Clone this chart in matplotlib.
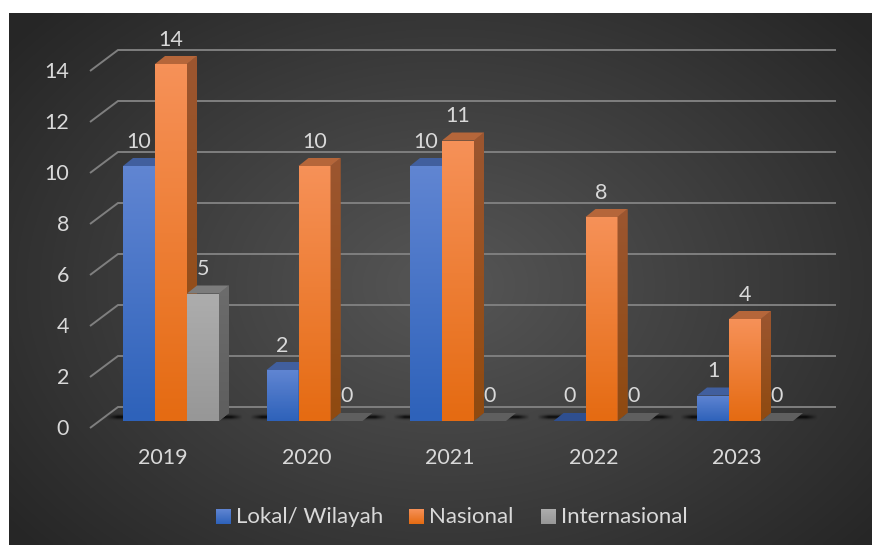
#bar chart with fake 3d look on dark gradient panel
#one axes over the whole figure, 1 display pixel = 1 picture pixel at dpi 100

import numpy as np
import matplotlib
matplotlib.use("Agg")
import matplotlib.pyplot as plt
from matplotlib.colors import LinearSegmentedColormap
from matplotlib.patches import Polygon

years = ["2019", "2020", "2021", "2022", "2023"]
lokal = [10, 2, 10, 0, 1]
nasional = [14, 10, 11, 8, 4]
internasional = [5, 0, 0, 0, 0]
series_names = ["Lokal/ Wilayah", "Nasional", "Internasional"]
y_ticks = [0, 2, 4, 6, 8, 10, 12, 14]

plt.rcParams['font.family'] = ['Lato', 'DejaVu Sans']

W, H = 872, 545
X0, STEP = 171, 143.5   #pixel x of first group centre, pixels per category
Y0, UNIT = 421, 25.5    #pixel y of value 0, pixels per value unit
BAR_W = 32 / STEP
DEPTH_X = 10 / STEP
DEPTH_Y = 8 / UNIT
TXT = "#d9d9d9"

#face colours: front top, front bottom, top face, side top, side bottom
styles = [
	("#6085d2", "#2e62ba", "#415f9e", "#37558f", "#2a4a86"),
	("#f69158", "#e56b12", "#b5663a", "#9c5630", "#8f4a10"),
	("#adadad", "#979797", "#7c7c7c", "#6c6c6c", "#5e5e5e"),
]

fig = plt.figure(figsize=(W / 100, H / 100), dpi=100, facecolor="white")
ax = fig.add_axes([0, 0, 1, 1])
xlim = (-X0 / STEP, (W - X0) / STEP)
ylim = (-(H - Y0) / UNIT, Y0 / UNIT)


def px(xp, yp):
	return (xp - X0) / STEP, (Y0 - yp) / UNIT


z = [10]


def next_z():
	z[0] = z[0] + 1
	return z[0]


def grad_poly(verts, top, bottom):
	#polygon filled with a vertical gradient
	verts = np.array(verts)
	cmap = LinearSegmentedColormap.from_list("g", [bottom, top])
	zz = next_z()
	poly = Polygon(verts, closed=True, facecolor=top, edgecolor="none", zorder=zz)
	ax.add_patch(poly)
	y1, y2 = verts[:, 1].min(), verts[:, 1].max()
	x1, x2 = verts[:, 0].min(), verts[:, 0].max()
	if y2 > y1:
		grad = np.linspace(1, 0, 64).reshape(-1, 1)
		im = ax.imshow(grad, extent=[x1, x2, y1, y2], aspect="auto", cmap=cmap,
			vmin=0, vmax=1, zorder=zz, interpolation="bilinear")
		im.set_clip_path(poly)


#dark panel with radial gradient
gx, gy = np.meshgrid(np.linspace(9, W, 220), np.linspace(13, H, 140))
r = np.hypot((gx - 445) / 560, (gy - 285) / 400)
r = np.clip(r, 0, 1)
panel_cmap = LinearSegmentedColormap.from_list("panel", ["#565656", "#262626"])
x_a, y_a = px(9, 13)
x_b, y_b = px(W, H)
ax.imshow(r, extent=[x_a, x_b, y_b, y_a], aspect="auto", cmap=panel_cmap, vmin=0, vmax=1,
	zorder=1, interpolation="bilinear")

#gridlines, back wall plus the slanted piece to the left
for t in y_ticks:
	yb = t + 14 / UNIT
	yf = t - 7 / UNIT
	xl = px(118, 0)[0]
	xf = px(90, 0)[0]
	xr = px(836, 0)[0]
	ax.plot([xf, xl, xr], [yf, yb, yb], color="#7f7f7f", lw=1.4, zorder=2,
		solid_capstyle="butt", solid_joinstyle="miter")
	ax.text(px(69, 0)[0], t - 8 / UNIT, str(t), color=TXT, fontsize=15.5, ha="right", va="center", zorder=100)

#floor shadows
for i in range(len(years)):
	sx = np.linspace(-1, 1, 200)
	sy = np.linspace(-1, 1, 24)
	fx = np.clip((1 - np.abs(sx)) * 6, 0, 1)
	fy = np.exp(-(sy * 2.0) ** 2)
	rgba = np.zeros((24, 200, 4))
	rgba[:, :, 3] = 0.8 * np.outer(fy, fx)
	ax.imshow(rgba, extent=[i - 65 / STEP, i + 72 / STEP, 0, 8 / UNIT], aspect="auto", zorder=3,
		interpolation="bilinear")

#bars left to right, so each one covers the side of the one before
for i in range(len(years)):
	for s, vals in enumerate([lokal, nasional, internasional]):
		front_top, front_bottom, top_col, side_top, side_bottom = styles[s]
		xc = i + (s - 1) * BAR_W
		v = vals[i]
		bar = ax.bar(xc, v, width=BAR_W, color="none", edgecolor="none", zorder=next_z())[0]
		xl, xr = bar.get_x(), bar.get_x() + bar.get_width()
		if v > 0:
			grad_poly([(xl, 0), (xr, 0), (xr, v), (xl, v)], front_top, front_bottom)
			grad_poly([(xr, 0), (xr + DEPTH_X, DEPTH_Y), (xr + DEPTH_X, v + DEPTH_Y), (xr, v)], side_top, side_bottom)
			top_face = top_col
		elif s == 0:
			top_face = "#2f4f8f"
		else:
			top_face = "#5f5f5f"
		ax.add_patch(Polygon([(xl, v), (xr, v), (xr + DEPTH_X, v + DEPTH_Y), (xl + DEPTH_X, v + DEPTH_Y)],
			closed=True, facecolor=top_face, edgecolor="none", zorder=next_z()))
		ax.text(xc, v + 24.5 / UNIT, str(v), color=TXT, fontsize=15.5, ha="center", va="center", zorder=100)

#category labels
for i, year in enumerate(years):
	ax.text(i - 8 / STEP, px(0, 458)[1], year, color=TXT, fontsize=15.5, ha="center", va="center", zorder=100)

#legend drawn by hand to keep the gradient in the swatches
legend_x = [216, 409, 541]
for s, name in enumerate(series_names):
	a = px(legend_x[s], 509)
	b = px(legend_x[s] + 15, 524)
	grad_poly([(a[0], a[1]), (b[0], a[1]), (b[0], b[1]), (a[0], b[1])], styles[s][0], styles[s][1])
	ax.text(px(legend_x[s] + 20, 0)[0], px(0, 517)[1], name, color=TXT, fontsize=16, ha="left", va="center", zorder=100)

ax.set_xlim(xlim)
ax.set_ylim(ylim)
ax.axis("off")

plt.savefig("out.png", dpi=100, facecolor="white")
plt.close()
